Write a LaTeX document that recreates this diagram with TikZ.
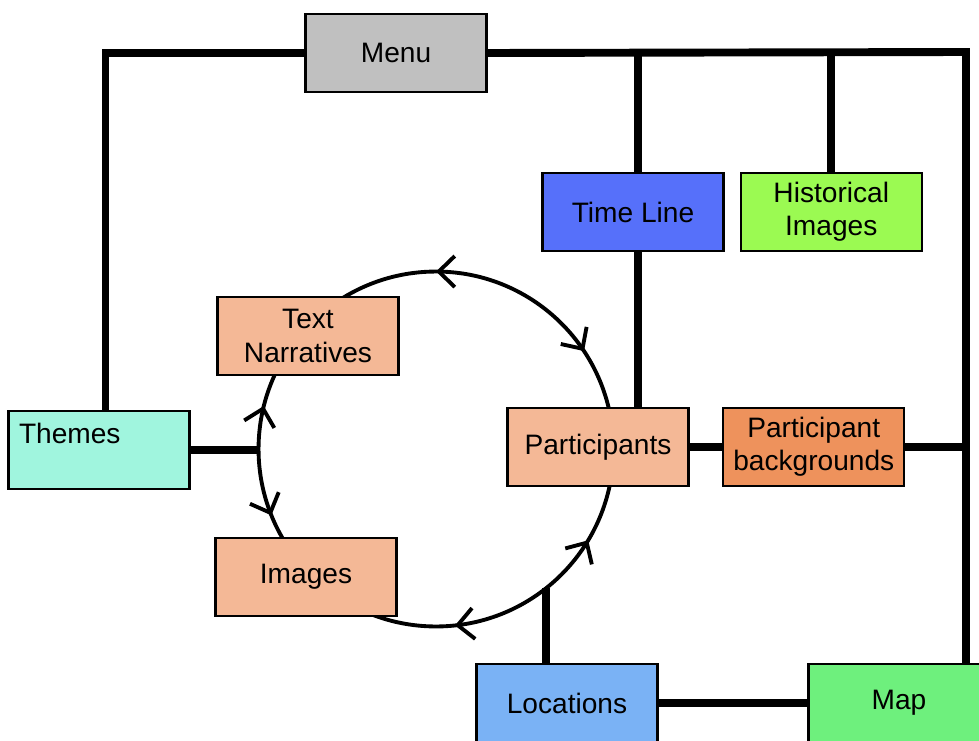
\documentclass[tikz,border=0pt]{standalone}
\usepackage{fontspec}
\setmainfont{Liberation Sans}
\usepackage{tikz}
\usetikzlibrary{positioning,arrows.meta,decorations.markings}

\definecolor{menugray}{RGB}{192,192,192}
\definecolor{timeblue}{RGB}{86,112,250}
\definecolor{histgreen}{RGB}{155,250,82}
\definecolor{partsalmon}{RGB}{244,184,150}
\definecolor{bgorange}{RGB}{238,146,92}
\definecolor{themeaqua}{RGB}{160,245,222}
\definecolor{locblue}{RGB}{122,178,245}
\definecolor{mapgreen}{RGB}{110,240,125}

\begin{document}
\begin{tikzpicture}[
    x=0.02cm, y=-0.02cm,
    box/.style={rectangle, draw, line width=1.3pt, minimum width=3.62cm, minimum height=1.56cm, align=center, font=\fontsize{16}{19}\selectfont},
    link/.style={line width=4.5pt},
    loopline/.style={line width=2.2pt, postaction={decorate}, decoration={markings,
        mark=at position 0.093 with {\arrowreversed{Straight Barb[length=0.32cm, width=0.62cm]}},
        mark=at position 0.25 with {\arrow{Straight Barb[length=0.32cm, width=0.62cm]}},
        mark=at position 0.461 with {\arrowreversed{Straight Barb[length=0.32cm, width=0.62cm]}},
        mark=at position 0.561 with {\arrow{Straight Barb[length=0.32cm, width=0.62cm]}},
        mark=at position 0.767 with {\arrowreversed{Straight Barb[length=0.32cm, width=0.62cm]}},
        mark=at position 0.914 with {\arrow{Straight Barb[length=0.32cm, width=0.62cm]}}}}
]
\useasboundingbox (0,0) rectangle (979,740);

% the cycle behind the salmon boxes
\coordinate (hub) at (436,449);
\draw[loopline] (hub) circle[radius=3.55cm];

\node[box, fill=menugray] (menu) at (396,53) {Menu};
\node[box, fill=timeblue] (timeline) at (633,212) {Time Line};
\node[box, fill=histgreen, right=0.3cm of timeline] (hist) {Historical\\Images};
\node[box, fill=partsalmon] (narr) at (308,336) {Text\\Narratives};
\node[box, fill=themeaqua, text width=3.2cm, align=left] (themes) at (99,450) {Themes\\\mbox{}};
\node[box, fill=partsalmon] (part) at (598,447) {Participants};
\node[box, fill=bgorange, right=0.65cm of part] (backgr) {Participant\\backgrounds};
\node[box, fill=partsalmon] (images) at (306,577) {Images};
\node[box, fill=locblue] (loc) at (567,703) {Locations};
\node[box, fill=mapgreen] (map) at (899,703) {Map};

\coordinate (corner) at (966,52);
\coordinate (cleft) at (259,448);
\coordinate (cbot) at (546,588);

\draw[link] (menu.west) -| ([xshift=0.13cm]themes.north);
\draw[link] (menu.east) -- (corner) -- (corner |- map.north);
\draw[link] ([xshift=0.1cm]timeline.north) -- ([xshift=0.1cm]timeline.north |- menu.east);
\draw[link] (hist.north) -- (hist.north |- menu.east);
\draw[link] ([xshift=0.1cm]timeline.south) -- ([xshift=0.1cm]timeline.south |- part.north);
\draw[link] (part) -- (backgr);
\draw[link] (backgr.east) -- (backgr.east -| corner);
\draw[link] (themes.east) -- (themes.east -| cleft);
\draw[link] (cbot) -- (cbot |- loc.north);
\draw[link] (loc) -- (map);

\end{tikzpicture}
\end{document}
